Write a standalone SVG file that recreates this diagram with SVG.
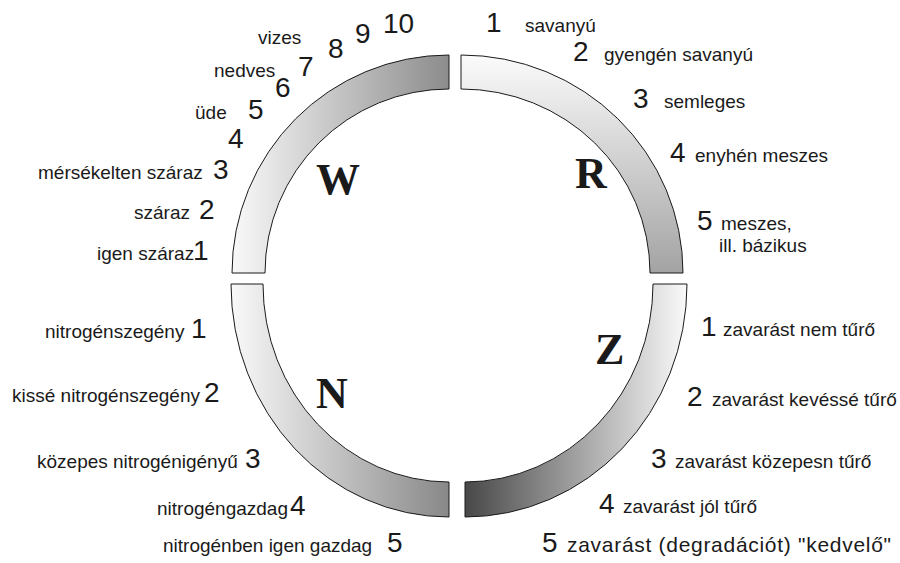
<svg xmlns="http://www.w3.org/2000/svg" width="900" height="563" viewBox="0 0 900 563">
<defs>
<linearGradient id="gW" gradientUnits="userSpaceOnUse" x1="232" y1="0" x2="449" y2="0"><stop offset="0" stop-color="#f9f9f9"/><stop offset="1" stop-color="#8c8c8c"/></linearGradient>
<linearGradient id="gR" gradientUnits="userSpaceOnUse" x1="0" y1="55" x2="0" y2="273"><stop offset="0" stop-color="#fbfbfb"/><stop offset="1" stop-color="#a3a3a3"/></linearGradient>
<linearGradient id="gN" gradientUnits="userSpaceOnUse" x1="231" y1="0" x2="449" y2="0"><stop offset="0" stop-color="#f9f9f9"/><stop offset="1" stop-color="#888888"/></linearGradient>
<linearGradient id="gZ" gradientUnits="userSpaceOnUse" x1="687" y1="0" x2="465" y2="0"><stop offset="0" stop-color="#fafafa"/><stop offset="1" stop-color="#484848"/></linearGradient>
</defs>
<style>
.seg{stroke:#1a1a1a;stroke-width:1}
.lab{font-family:"Liberation Sans",Arial,sans-serif;font-size:19px;fill:#1a1a1a}
.num{font-family:"Liberation Sans",Arial,sans-serif;font-size:28px;fill:#1a1a1a}
.big{font-family:"Liberation Serif","Times New Roman",serif;font-size:44px;font-weight:bold;fill:#1a1a1a}
</style>
<rect width="900" height="563" fill="#ffffff"/>
<g id="W">
<path class="seg" fill="url(#gW)" d="M232,273 A217,218 0 0 1 449,55 L449,89 A184,184 0 0 0 265,273 Z"/>
<text class="big" x="316" y="194">W</text>
<text class="lab" x="258" y="44">vizes</text>
<text class="num" x="328" y="58">8</text>
<text class="num" x="355" y="43">9</text>
<text class="num" x="383" y="33">10</text>
<text class="num" x="298" y="76">7</text>
<text class="lab" x="214" y="77">nedves</text>
<text class="num" x="275" y="97">6</text>
<text class="lab" x="195" y="119">üde</text>
<text class="num" x="248" y="119">5</text>
<text class="num" x="228" y="148">4</text>
<text class="lab" x="38" y="179">mérsékelten száraz</text>
<text class="num" x="213" y="179">3</text>
<text class="lab" x="134" y="219">száraz</text>
<text class="num" x="199" y="219">2</text>
<text class="lab" x="97" y="260">igen száraz</text>
<text class="num" x="193" y="260">1</text>
</g>
<g id="R">
<path class="seg" fill="url(#gR)" d="M461,55 A222,218 0 0 1 683,273 L650,273 A189,184 0 0 0 461,89 Z"/>
<text class="big" x="575" y="188">R</text>
<text class="num" x="486" y="32">1</text>
<text class="lab" x="525" y="32">savanyú</text>
<text class="num" x="573" y="61">2</text>
<text class="lab" x="604" y="61">gyengén savanyú</text>
<text class="num" x="633" y="108">3</text>
<text class="lab" x="664" y="108">semleges</text>
<text class="num" x="670" y="162">4</text>
<text class="lab" x="695" y="162">enyhén meszes</text>
<text class="num" x="697" y="230">5</text>
<text class="lab" x="721" y="230">meszes,</text>
<text class="lab" x="719" y="252">ill. bázikus</text>
</g>
<g id="N">
<path class="seg" fill="url(#gN)" d="M231,284 A218,233 0 0 0 449,517 L449,482 A186,198 0 0 1 263,284 Z"/>
<text class="big" x="316" y="408">N</text>
<text class="lab" x="45" y="338">nitrogénszegény</text>
<text class="num" x="191" y="338">1</text>
<text class="lab" x="12" y="402">kissé nitrogénszegény</text>
<text class="num" x="204" y="402">2</text>
<text class="lab" x="37" y="468">közepes nitrogénigényű</text>
<text class="num" x="245" y="468">3</text>
<text class="lab" x="157" y="515">nitrogéngazdag</text>
<text class="num" x="290" y="515">4</text>
<text class="lab" x="163" y="552">nitrogénben igen gazdag</text>
<text class="num" x="387" y="552">5</text>
</g>
<g id="Z">
<path class="seg" fill="url(#gZ)" d="M687,284 A222,233 0 0 1 465,517 L465,482 A188,198 0 0 0 653,284 Z"/>
<text class="big" x="595" y="364">Z</text>
<text class="num" x="701" y="336">1</text>
<text class="lab" x="723" y="336">zavarást nem tűrő</text>
<text class="num" x="687" y="406">2</text>
<text class="lab" x="712" y="406">zavarást kevéssé tűrő</text>
<text class="num" x="651" y="468">3</text>
<text class="lab" x="675" y="468">zavarást közepesn tűrő</text>
<text class="num" x="599" y="513">4</text>
<text class="lab" x="623" y="513">zavarást jól tűrő</text>
<text class="num" x="542" y="552">5</text>
<text class="lab" x="567" y="552" style="font-size:21px" textLength="324" lengthAdjust="spacing">zavarást (degradációt) "kedvelő"</text>
</g>
</svg>
